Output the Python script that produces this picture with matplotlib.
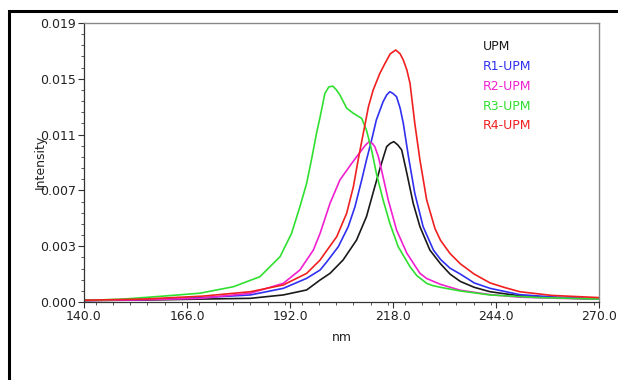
import matplotlib
matplotlib.use("Agg")
import matplotlib.pyplot as plt
from matplotlib.ticker import FixedLocator, MultipleLocator
from matplotlib.patches import Rectangle

# Absorbance spectra (wavelength in nm, intensity)
upm_nm = [140, 155, 170, 182, 190.3, 196.2, 199.6, 202.1, 205.4, 208.8, 211.3, 213.4,
          215.1, 216.4, 217.3, 218.2, 219.2, 220.2, 221.5, 223.1, 224.8, 227.3, 230,
          232.4, 235, 238.5, 242.5, 250, 260, 270]
upm_int = [0.0001, 0.00013, 0.0002, 0.00025, 0.00048, 0.00082, 0.0015, 0.00195,
           0.00286, 0.00422, 0.00581, 0.00785, 0.00945, 0.01058, 0.0108, 0.01092,
           0.0107, 0.01035, 0.00876, 0.00672, 0.00513, 0.00354, 0.0026, 0.0019,
           0.0014, 0.001, 0.0007, 0.00042, 0.00028, 0.0002]

r1_nm = [140, 155, 170, 182, 190.3, 196.2, 199.6, 201.3, 204.2, 206.7, 208.4, 210.1,
         211.3, 212.6, 213.8, 215.5, 216.4, 217.2, 218.0, 218.9, 219.8, 220.6, 221.9,
         223.5, 225.6, 228.2, 230, 232.4, 235, 238.5, 242.5, 250, 258, 270]
r1_int = [0.0001, 0.00018, 0.0003, 0.00048, 0.00093, 0.00161, 0.00218, 0.00274,
          0.00377, 0.00513, 0.00649, 0.00831, 0.00967, 0.01103, 0.0124, 0.01364,
          0.0141, 0.01432, 0.0142, 0.01398, 0.0132, 0.01217, 0.0099, 0.0074, 0.00513,
          0.00354, 0.0029, 0.0023, 0.0019, 0.0013, 0.00093, 0.0005, 0.00035, 0.0002]

r2_nm = [140, 155, 169.3, 181.9, 190.3, 194.5, 197.9, 199.6, 202.1, 204.6, 207.6,
         210.1, 211.1, 212.0, 212.8, 213.4, 214.3, 215.1, 216.8, 218.9, 221.5, 224.8,
         226.5, 230, 235, 242.5, 250, 260, 270]
r2_int = [0.0001, 0.00015, 0.00025, 0.00059, 0.00127, 0.00218, 0.00354, 0.00468,
          0.00672, 0.00831, 0.00945, 0.01035, 0.0107, 0.01092, 0.0108, 0.01058,
          0.0099, 0.00899, 0.00695, 0.0049, 0.00332, 0.00195, 0.0016, 0.0012, 0.0008,
          0.0005, 0.00033, 0.00025, 0.0002]

r3_nm = [140, 150, 160, 169.3, 177.7, 184.4, 189.5, 192.4, 194.5, 196.2, 197.5, 198.7,
         199.6, 200.8, 201.8, 202.8, 203.7, 204.6, 206.3, 208.0, 210.1, 211.3, 212.6,
         213.8, 215.5, 217.2, 219.3, 222.3, 224.0, 226.5, 228.0, 230, 235, 242.5, 255,
         270]
r3_int = [0.0001, 0.0002, 0.0004, 0.0006, 0.00104, 0.00172, 0.00309, 0.00468,
          0.00649, 0.00808, 0.0098, 0.0115, 0.0126, 0.0142, 0.01465, 0.0147, 0.01445,
          0.0141, 0.0132, 0.01285, 0.0125, 0.0117, 0.01035, 0.00876, 0.00695, 0.00536,
          0.00377, 0.0024, 0.0018, 0.00127, 0.00112, 0.001, 0.00075, 0.00048, 0.0003,
          0.0002]

r4_nm = [140, 155, 170, 182, 190.3, 196.2, 199.6, 200.8, 203.8, 206.3, 208.0, 209.2,
         210.5, 211.8, 213.0, 214.7, 216.0, 217.3, 218.7, 219.8, 220.6, 221.5, 222.3,
         223.5, 224.8, 226.5, 228.6, 230, 232.4, 235, 238.5, 242.5, 246, 250, 258, 270]
r4_int = [0.00012, 0.0002, 0.0004, 0.0007, 0.00116, 0.00195, 0.00286, 0.00332,
          0.00445, 0.00604, 0.00785, 0.00967, 0.01149, 0.0133, 0.01444, 0.01558,
          0.01626, 0.0169, 0.01716, 0.0169, 0.01648, 0.0158, 0.01489, 0.01217,
          0.00967, 0.00695, 0.0050, 0.0042, 0.0033, 0.0026, 0.0019, 0.0013, 0.001,
          0.0007, 0.00045, 0.0003]

series_names = ["UPM", "R1-UPM", "R2-UPM", "R3-UPM", "R4-UPM"]
series_colors = ["#1a1a1a", "#3030f0", "#f020d0", "#30e030", "#f02020"]

x_ticks = [140.0, 166.0, 192.0, 218.0, 244.0, 270.0]
y_ticks = [0.0, 0.0038, 0.0076, 0.0114, 0.0152, 0.019]
y_tick_labels = ["0.000", "0.003", "0.007", "0.011", "0.015", "0.019"]

W, H = 618, 380
fig = plt.figure(figsize=(W / 100, H / 100), dpi=100)
fig.patch.set_facecolor("white")

# outer frame (left and top edges visible)
fig.add_artist(Rectangle((8.5 / W, -0.1), 1.2, 1.1 - 11 / H, transform=fig.transFigure,
                         fill=False, edgecolor="black", linewidth=2.2))

ax = fig.add_axes([84 / W, 1 - 302 / H, 515 / W, 279 / H])

xs = [upm_nm, r1_nm, r2_nm, r3_nm, r4_nm]
ys = [upm_int, r1_int, r2_int, r3_int, r4_int]
for x, y, c in zip(xs, ys, series_colors):
    ax.plot(x, y, color=c, linewidth=1.2, solid_joinstyle="round")

ax.set_xlim(140, 270)
ax.set_ylim(0, 0.019)

ax.xaxis.set_major_locator(FixedLocator(x_ticks))
ax.set_xticklabels([f"{v:.1f}" for v in x_ticks])
ax.xaxis.set_minor_locator(MultipleLocator(26 / 6))
ax.yaxis.set_major_locator(FixedLocator(y_ticks))
ax.set_yticklabels(y_tick_labels)
ax.yaxis.set_minor_locator(MultipleLocator(0.0038 / 5))

ax.tick_params(which="major", direction="out", length=4, width=0.8, color="#333333",
               labelsize=9, pad=1.5, labelcolor="#222222")
ax.tick_params(which="minor", direction="out", length=2, width=0.7, color="#555555")

for side in ("left", "bottom"):
    ax.spines[side].set_color("#333333")
    ax.spines[side].set_linewidth(0.9)
for side in ("top", "right"):
    ax.spines[side].set_color("#888888")
    ax.spines[side].set_linewidth(1.0)

ax.set_xlabel("nm", fontsize=9, color="#222222", labelpad=6)
fig.text(40 / W, 1 - 162 / H, "Intensity", rotation=90, ha="center", va="center",
         fontsize=9, color="#222222")

# series names listed in their line colours
for i, (name, c) in enumerate(zip(series_names, series_colors)):
    ax.text(483 / W, 1 - (47 + 19.7 * i) / H, name, transform=fig.transFigure,
            color=c, fontsize=9, ha="left", va="center")

fig.savefig("out.png", dpi=100, facecolor="white")
